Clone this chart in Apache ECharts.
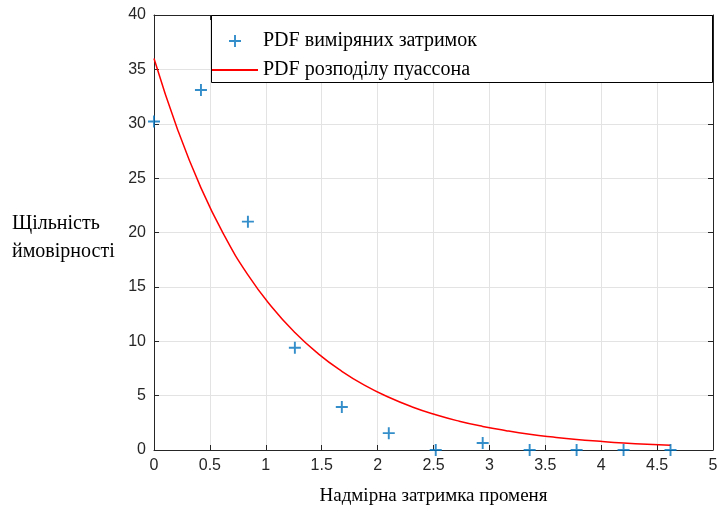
<!DOCTYPE html>
<html>
<head>
<meta charset="utf-8">
<script src="https://cdn.jsdelivr.net/npm/echarts@6/dist/echarts.min.js"></script>
<style>
  html, body { margin: 0; padding: 0; background: #ffffff; }
  #chart { width: 723px; height: 517px; }
</style>
</head>
<body>
<div id="chart"></div>
<script>
// Measured delays (normalised) and their empirical PDF
const measuredX = [0, 0.42, 0.84, 1.26, 1.68, 2.10, 2.52, 2.94, 3.36, 3.78, 4.20, 4.62];
const measuredPdf = [30.2, 33.1, 21.0, 9.4, 3.95, 1.55, 0, 0.65, 0, 0, 0, 0];

// Fitted Poisson-process PDF curve
const fitX = [0, 0.21, 0.42, 0.63, 0.84, 1.05, 1.26, 1.47, 1.68, 1.89, 2.10, 2.31,
              2.52, 2.73, 2.94, 3.15, 3.36, 3.57, 3.78, 3.99, 4.20, 4.41, 4.62];
const fitPdf = [36.0, 29.5, 24.1, 19.7, 16.1, 13.2, 10.8, 8.84, 7.24, 5.92, 4.85, 3.96,
                3.24, 2.65, 2.17, 1.78, 1.45, 1.19, 0.97, 0.80, 0.65, 0.53, 0.44];

// Axis ticks
const xTicks = { min: 0, max: 5, interval: 0.5 };
const yTicks = { min: 0, max: 40, interval: 5 };

const seriesNames = ['PDF виміряних затримок', 'PDF розподілу пуассона'];
const axisTitles = { x: 'Надмірна затримка променя', y: 'Щільність\nймовірності' };

const AXIS_COLOR = '#262626';
const BLUE = '#0072BD';
const RED = '#FF0000';
const PLUS = 'path://M4.2,0h1.6v4.2h4.2v1.6h-4.2v4.2h-1.6v-4.2h-4.2v-1.6h4.2z';

const chart = echarts.init(document.getElementById('chart'), null, { renderer: 'canvas' });

const tickLabel = { color: AXIS_COLOR, fontFamily: 'Liberation Sans', fontSize: 16 };
const serifText = { fontFamily: 'Liberation Serif', fontSize: 20, color: '#000000' };

function axisCommon(t) {
  return {
    type: 'value',
    min: t.min, max: t.max, interval: t.interval,
    axisLine: { show: true, onZero: false, lineStyle: { color: AXIS_COLOR, width: 1 } },
    axisTick: { show: true, inside: true, length: 5, lineStyle: { color: AXIS_COLOR } }
  };
}

chart.setOption({
  animation: false,
  backgroundColor: '#ffffff',
  grid: { left: 154, right: 10, top: 15, bottom: 67, containLabel: false },
  xAxis: [
    Object.assign(axisCommon(xTicks), {
      position: 'bottom',
      axisLabel: Object.assign({ margin: 8 }, tickLabel),
      splitLine: { show: true, lineStyle: { color: '#e3e3e3', width: 1 } },
      name: axisTitles.x,
      nameLocation: 'middle',
      nameGap: 37,
      nameTextStyle: Object.assign({}, serifText, { fontSize: 19 })
    }),
    Object.assign(axisCommon(xTicks), {
      position: 'top',
      axisLabel: { show: false },
      splitLine: { show: false }
    })
  ],
  yAxis: [
    Object.assign(axisCommon(yTicks), {
      position: 'left',
      axisLabel: Object.assign({ margin: 8 }, tickLabel),
      splitLine: { show: true, lineStyle: { color: '#e3e3e3', width: 1 } }
    }),
    Object.assign(axisCommon(yTicks), {
      position: 'right',
      axisLabel: { show: false },
      splitLine: { show: false }
    })
  ],
  legend: {
    orient: 'vertical',
    left: 211,
    top: 15,
    padding: [16, 0, 0, 0],
    itemWidth: 46,
    itemHeight: 12,
    itemGap: 9,
    z: 20,
    textStyle: Object.assign({}, serifText, { lineHeight: 20 }),
    data: [
      { name: seriesNames[0], icon: PLUS },
      { name: seriesNames[1], itemStyle: { opacity: 0 } }
    ]
  },
  graphic: [
    {
      // legend frame
      type: 'rect',
      z: 15,
      shape: { x: 211.5, y: 15.5, width: 501, height: 67 },
      style: { fill: '#ffffff', stroke: '#000000', lineWidth: 1 }
    },
    {
      // horizontal y-axis title, left of the tick labels
      type: 'text',
      left: 12,
      top: 210,
      style: {
        text: axisTitles.y,
        font: '20px "Liberation Serif"',
        fill: '#000000',
        lineHeight: 28
      }
    }
  ],
  series: [
    {
      name: seriesNames[0],
      type: 'scatter',
      xAxisIndex: 0, yAxisIndex: 0,
      symbol: PLUS,
      symbolSize: 12,
      symbolKeepAspect: true,
      itemStyle: { color: BLUE },
      z: 3,
      data: measuredX.map((x, i) => [x, measuredPdf[i]])
    },
    {
      name: seriesNames[1],
      type: 'line',
      xAxisIndex: 0, yAxisIndex: 0,
      smooth: true,
      symbol: 'none',
      lineStyle: { color: RED, width: 1.5 },
      itemStyle: { color: RED },
      z: 2,
      data: fitX.map((x, i) => [x, fitPdf[i]])
    }
  ]
});
</script>
</body>
</html>
